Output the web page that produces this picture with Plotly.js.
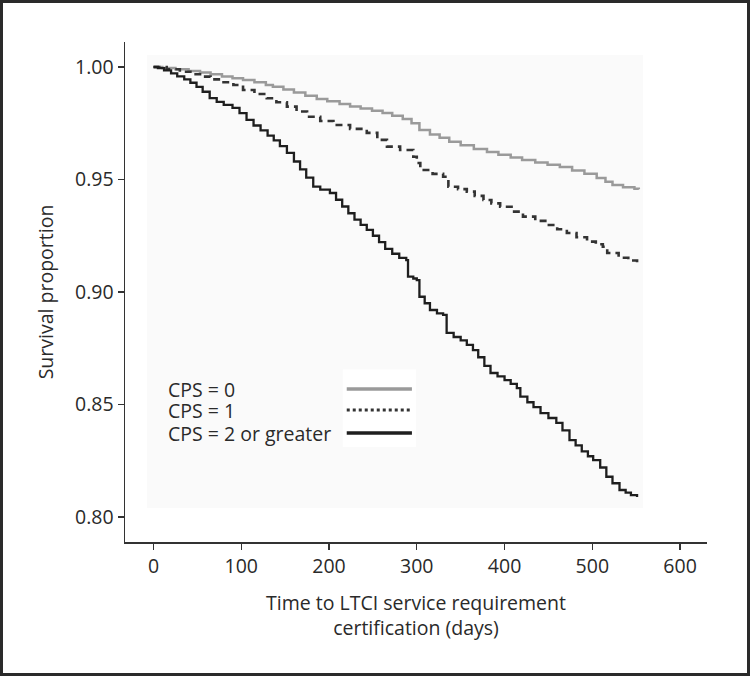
<!DOCTYPE html>
<html>
<head>
<meta charset="utf-8">
<script src="https://cdn.plot.ly/plotly-3.0.1.min.js"></script>
<style>
  html, body { margin: 0; padding: 0; background: #fff; }
  #wrap { position: relative; width: 750px; height: 676px; }
  #chart { width: 750px; height: 676px; }
  #frame { position: absolute; left: 0; top: 0; width: 750px; height: 676px; box-sizing: border-box; border: 3px solid #2a2a2a; pointer-events: none; }
</style>
</head>
<body>
<div id="wrap"><div id="chart"></div><div id="frame"></div></div>
<script>
// ---- Data ----
const seriesNames = ["CPS = 0", "CPS = 1", "CPS = 2 or greater"];

const cps0Days = [0, 10, 25, 40, 53, 65, 78, 90, 102, 115, 128, 136, 148, 160, 173, 186, 198, 212, 224, 236, 249, 261, 272, 284, 294, 303, 315, 326, 337, 350, 365, 380, 393, 407, 420, 435, 449, 463, 477, 491, 505, 515, 523, 535, 548, 553];
const cps0Surv = [1.000, 0.9996, 0.9990, 0.9982, 0.9975, 0.9968, 0.9958, 0.9950, 0.9942, 0.9932, 0.9920, 0.9912, 0.9900, 0.9887, 0.9872, 0.9858, 0.9848, 0.9835, 0.9824, 0.9815, 0.9805, 0.9796, 0.9783, 0.9769, 0.9750, 0.9720, 0.9700, 0.9685, 0.9668, 0.9652, 0.9636, 0.9622, 0.9610, 0.9598, 0.9587, 0.9576, 0.9566, 0.9556, 0.9540, 0.9525, 0.9507, 0.9490, 0.9476, 0.9466, 0.9459, 0.9457];

const cps1Days = [0, 15, 30, 42, 53, 65, 78, 91, 102, 115, 129, 140, 152, 163, 175, 190, 205, 224, 243, 255, 266, 281, 296, 300, 304, 318, 330, 336, 347, 357, 366, 376, 385, 395, 408, 421, 435, 448, 460, 471, 482, 494, 504, 512, 517, 530, 541, 551];
const cps1Surv = [1.000, 0.9990, 0.9979, 0.9968, 0.9957, 0.9945, 0.9932, 0.9920, 0.9898, 0.9880, 0.9861, 0.9843, 0.9824, 0.9802, 0.9779, 0.9760, 0.9742, 0.9725, 0.9707, 0.9676, 0.9646, 0.9631, 0.9601, 0.9573, 0.9542, 0.9525, 0.9512, 0.9468, 0.9457, 0.9446, 0.9427, 0.9409, 0.9394, 0.9379, 0.9357, 0.9335, 0.9316, 0.9298, 0.9279, 0.9262, 0.9243, 0.9224, 0.9212, 0.9201, 0.9173, 0.9152, 0.9140, 0.9132];

const cps2Days = [0, 5, 12, 20, 27, 35, 42, 49, 56, 64, 72, 80, 90, 98, 106, 114, 122, 130, 137, 144, 152, 160, 167, 174, 182, 190, 201, 208, 215, 222, 229, 236, 243, 250, 257, 264, 272, 280, 288, 290, 296, 300, 303, 309, 315, 323, 330, 334, 342, 350, 357, 364, 370, 377, 384, 392, 400, 407, 414, 418, 426, 433, 441, 450, 459, 466, 474, 481, 488, 495, 501, 509, 516, 523, 531, 538, 544, 551];
const cps2Surv = [1.000, 0.9995, 0.9985, 0.9972, 0.9958, 0.9945, 0.9930, 0.9912, 0.9890, 0.9862, 0.9845, 0.9832, 0.9818, 0.9795, 0.9765, 0.9740, 0.9718, 0.9695, 0.9674, 0.9648, 0.9618, 0.9580, 0.9545, 0.9508, 0.9468, 0.9455, 0.9440, 0.9410, 0.9380, 0.9350, 0.9322, 0.9298, 0.9276, 0.9250, 0.9222, 0.9192, 0.9170, 0.9152, 0.9142, 0.9068, 0.9060, 0.9053, 0.8979, 0.8950, 0.8920, 0.8905, 0.8898, 0.8818, 0.8800, 0.8785, 0.8765, 0.8742, 0.8710, 0.8672, 0.8640, 0.8625, 0.8608, 0.8592, 0.8573, 0.8535, 0.8510, 0.8488, 0.8462, 0.8440, 0.8418, 0.8385, 0.8342, 0.8318, 0.8292, 0.8270, 0.8253, 0.8220, 0.8179, 0.8150, 0.8120, 0.8108, 0.8097, 0.8089];

const xTicks = [0, 100, 200, 300, 400, 500, 600];
const yTicks = [0.80, 0.85, 0.90, 0.95, 1.00];

// ---- Styling ----
const FONT = "Open Sans, Noto Sans, sans-serif";
const TXT = "#2a2a2a";
const FS = 19.5;

const traces = [
  { x: cps0Days, y: cps0Surv, name: seriesNames[0], mode: "lines",
    line: { shape: "hv", color: "#9a9a9a", width: 2.5 } },
  { x: cps1Days, y: cps1Surv, name: seriesNames[1], mode: "lines",
    line: { shape: "hv", color: "#333333", width: 2.6, dash: "7px,5px" } },
  { x: cps2Days, y: cps2Surv, name: seriesNames[2], mode: "lines",
    line: { shape: "hv", color: "#1e1e1e", width: 2.3 } }
];

// legend (symbols to the right of labels, as in the reference)
const legTextX = 0.070;
const legLineX0 = 0.381, legLineX1 = 0.493;
const legY = [0.306, 0.264, 0.218];
const legStyles = [
  { color: "#9a9a9a", width: 3.5, dash: "solid" },
  { color: "#333333", width: 3, dash: "dot" },
  { color: "#1e1e1e", width: 3.5, dash: "solid" }
];

const shapes = [
  { type: "rect", xref: "paper", yref: "paper", x0: 0.038, x1: 0.89, y0: 0.068, y1: 0.974,
    fillcolor: "#fafafa", line: { width: 0 }, layer: "below" },
  { type: "rect", xref: "paper", yref: "paper", x0: 0.374, x1: 0.50, y0: 0.19, y1: 0.345,
    fillcolor: "#ffffff", line: { width: 0 }, layer: "below" }
];
const annotations = [];
seriesNames.forEach((nm, i) => {
  shapes.push({ type: "line", xref: "paper", yref: "paper", x0: legLineX0, x1: legLineX1,
    y0: legY[i], y1: legY[i], line: legStyles[i] });
  annotations.push({ xref: "paper", yref: "paper", x: legTextX, y: legY[i], text: nm,
    showarrow: false, xanchor: "left", yanchor: "middle",
    font: { family: FONT, size: FS, color: TXT } });
});

const layout = {
  width: 750, height: 676,
  margin: { l: 125, r: 43, t: 42, b: 134 },
  paper_bgcolor: "#ffffff", plot_bgcolor: "#ffffff",
  showlegend: false,
  font: { family: FONT, size: FS, color: TXT },
  xaxis: {
    range: [-32.5, 630.7], tickvals: xTicks, ticktext: xTicks.map(String),
    ticks: "outside", ticklen: 6, tickwidth: 1.2, tickcolor: "#333",
    showline: true, linecolor: "#333", linewidth: 1.5, showgrid: false, zeroline: false,
    tickfont: { family: FONT, size: FS, color: TXT },
    title: { text: "Time to LTCI service requirement<br>certification (days)", standoff: 18,
      font: { family: FONT, size: FS, color: TXT } }
  },
  yaxis: {
    range: [0.7889, 1.0111], tickvals: yTicks, ticktext: yTicks.map(v => v.toFixed(2)),
    ticks: "outside", ticklen: 6, tickwidth: 1.2, tickcolor: "#333",
    showline: true, linecolor: "#333", linewidth: 1.5, showgrid: false, zeroline: false,
    tickfont: { family: FONT, size: FS, color: TXT },
    title: { text: "Survival proportion", standoff: 16,
      font: { family: FONT, size: FS, color: TXT } }
  },
  shapes: shapes,
  annotations: annotations
};

Plotly.newPlot("chart", traces, layout, { staticPlot: true, displayModeBar: false });
</script>
</body>
</html>
